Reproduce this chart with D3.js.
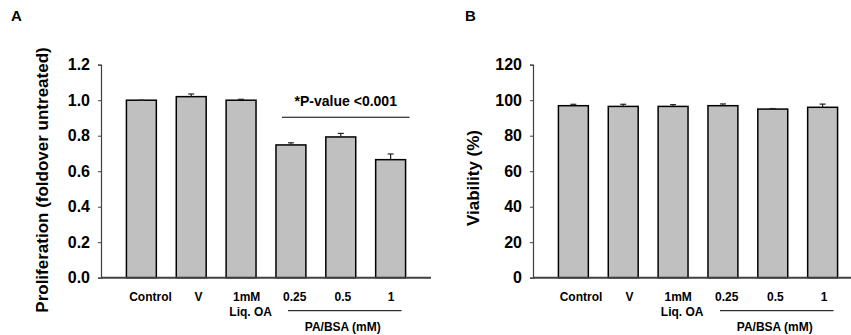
<!DOCTYPE html>
<html>
<head>
<meta charset="utf-8">
<script src="https://cdn.jsdelivr.net/npm/d3@7"></script>
<style>
  body { margin: 0; background: #fff; }
  text { font-family: Arial, "Liberation Sans", sans-serif; font-weight: bold; fill: #000; }
</style>
</head>
<body>
<div id="chart"></div>
<script>
// categories shared by both panels
const categories = ['Control', 'V', '1mM', '0.25', '0.5', '1'];
const subLabels = ['', '', 'Liq. OA', '', '', ''];
const groupLabel = 'PA/BSA (mM)';
const groupCats = ['0.25', '1'];

// panel A: proliferation
const prolifMean = [1.0, 1.02, 1.0, 0.748, 0.793, 0.665];
const prolifErr = [0, 0.015, 0.005, 0.012, 0.02, 0.032];
const prolifTicks = [0, 0.2, 0.4, 0.6, 0.8, 1.0, 1.2];
const prolifSigLevel = 0.904;
const prolifSigText = '*P-value <0.001';

// panel B: viability
const viabMean = [96.9, 96.5, 96.5, 96.9, 95.0, 96.0];
const viabErr = [0.8, 1.2, 1.0, 1.0, 0.3, 1.8];
const viabTicks = [0, 20, 40, 60, 80, 100, 120];

const width = 851;
const height = 335;

const svg = d3.select('#chart')
  .append('svg')
  .attr('width', width)
  .attr('height', height);

function drawPanel(opts) {
  const g = svg.append('g');

  const x = d3.scaleBand()
    .domain(categories)
    .range([opts.x0, opts.x0 + 330])
    .paddingInner(0.4)
    .paddingOuter(0.51);

  // the tick labels sit a little right of the bars, like in the original
  const xLab = d3.scalePoint()
    .domain(categories)
    .range(opts.labelRange);

  const y = d3.scaleLinear()
    .domain([0, opts.max])
    .range([277.7, 64.7]);

  // bars
  g.selectAll('rect.bar')
    .data(opts.mean)
    .join('rect')
    .attr('class', 'bar')
    .attr('x', (d, i) => x(categories[i]))
    .attr('y', d => y(d))
    .attr('width', x.bandwidth())
    .attr('height', d => y(0) - y(d))
    .attr('fill', '#c0c0c0')
    .attr('stroke', '#000')
    .attr('stroke-width', 1.5);

  // error bars (upper only)
  const err = g.selectAll('g.err')
    .data(opts.mean)
    .join('g')
    .attr('class', 'err')
    .attr('stroke', '#222')
    .attr('stroke-width', 1.2);
  err.append('line')
    .attr('x1', (d, i) => x(categories[i]) + x.bandwidth() / 2)
    .attr('x2', (d, i) => x(categories[i]) + x.bandwidth() / 2)
    .attr('y1', d => y(d))
    .attr('y2', (d, i) => y(d + opts.err[i]));
  err.append('line')
    .attr('x1', (d, i) => x(categories[i]) + x.bandwidth() / 2 - 3)
    .attr('x2', (d, i) => x(categories[i]) + x.bandwidth() / 2 + 3)
    .attr('y1', (d, i) => y(d + opts.err[i]))
    .attr('y2', (d, i) => y(d + opts.err[i]));

  // y axis
  const yAxis = g.append('g')
    .attr('transform', `translate(${opts.x0},0)`)
    .call(d3.axisLeft(y).tickValues(opts.ticks).tickFormat(opts.fmt).tickSize(3).tickPadding(8));
  yAxis.select('.domain').attr('stroke', '#404040').attr('stroke-width', 1.2);
  yAxis.selectAll('.tick line').attr('stroke', '#404040');
  yAxis.selectAll('.tick text')
    .style('font-size', '16px')
    .style('font-family', 'Arial, "Liberation Sans", sans-serif')
    .style('font-weight', 'bold')
    .attr('fill', '#000');

  // x axis line
  g.append('line')
    .attr('x1', opts.x0)
    .attr('x2', x.range()[1])
    .attr('y1', y(0))
    .attr('y2', y(0))
    .attr('stroke', '#404040')
    .attr('stroke-width', 2);

  // category labels
  g.selectAll('text.cat')
    .data(categories)
    .join('text')
    .attr('class', 'cat')
    .attr('x', d => xLab(d))
    .attr('y', 301)
    .attr('text-anchor', 'middle')
    .style('font-size', '12px')
    .text(d => d);
  g.selectAll('text.sub')
    .data(subLabels)
    .join('text')
    .attr('class', 'sub')
    .attr('x', (d, i) => xLab(categories[i]) + 4)
    .attr('y', 316)
    .attr('text-anchor', 'middle')
    .style('font-size', '12px')
    .text(d => d);

  // PA/BSA group bracket
  const gx1 = x(groupCats[0]) + 12;
  const gx2 = x(groupCats[1]) + x.bandwidth() - 4;
  g.append('line')
    .attr('x1', gx1).attr('x2', gx2)
    .attr('y1', 310.7).attr('y2', 310.7)
    .attr('stroke', '#000').attr('stroke-width', 1);
  g.append('text')
    .attr('x', (gx1 + gx2) / 2 - 2)
    .attr('y', 331)
    .attr('text-anchor', 'middle')
    .style('font-size', '12px')
    .text(groupLabel);

  // significance line
  if (opts.sig) {
    const sx1 = x(groupCats[0]) + 6;
    const sx2 = x(groupCats[1]) + x.bandwidth() + 4;
    g.append('line')
      .attr('x1', sx1).attr('x2', sx2)
      .attr('y1', y(opts.sig)).attr('y2', y(opts.sig))
      .attr('stroke', '#000').attr('stroke-width', 1);
    g.append('text')
      .attr('x', (sx1 + sx2) / 2)
      .attr('y', y(opts.sig) - 11)
      .attr('text-anchor', 'middle')
      .style('font-size', '14px')
      .text(opts.sigText);
  }

  // y axis title
  g.append('text')
    .attr('transform', `translate(${opts.titleX},${opts.titleY}) rotate(-90)`)
    .attr('text-anchor', 'middle')
    .style('font-size', '17px')
    .text(opts.title);

  // panel letter
  g.append('text')
    .attr('x', opts.letterX)
    .attr('y', 21)
    .style('font-size', '15px')
    .text(opts.letter);
}

drawPanel({
  x0: 101, max: 1.2, mean: prolifMean, err: prolifErr, ticks: prolifTicks,
  fmt: d3.format('.1f'), title: 'Proliferation (foldover untreated)',
  titleX: 48, titleY: 180, letter: 'A', letterX: 11,
  sig: prolifSigLevel, sigText: prolifSigText, labelRange: [150.5, 391]
});

drawPanel({
  x0: 533, max: 120, mean: viabMean, err: viabErr, ticks: viabTicks,
  fmt: d3.format('d'), title: 'Viability (%)',
  titleX: 479, titleY: 178, letter: 'B', letterX: 465, labelRange: [581, 824]
});
</script>
</body>
</html>
